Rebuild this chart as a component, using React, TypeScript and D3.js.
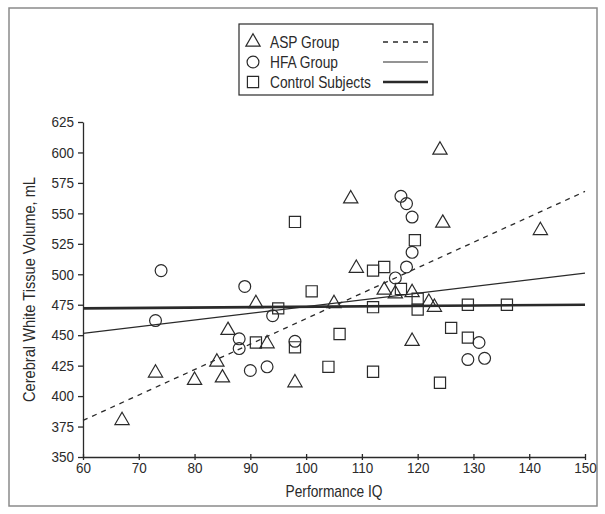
import React, { useEffect, useRef } from 'react';
import * as d3 from 'd3';

// [Performance IQ, white tissue volume]
const aspPoints: [number, number][] = [
  [67, 380], [73, 419], [80, 413], [84, 428], [85, 415], [86, 454], [91, 476],
  [93, 443], [98, 411], [105, 476], [108, 562], [109, 505], [114, 487], [116, 484],
  [119, 485], [119, 445], [122, 477], [123, 473], [124, 602], [124.5, 542], [142, 536],
];
const hfaPoints: [number, number][] = [
  [74, 503], [73, 462], [89, 490], [88, 447], [88, 439], [90, 421], [93, 424],
  [94, 466], [98, 445], [116, 497], [117, 564], [118, 558], [119, 547], [119, 518],
  [118, 506], [131, 444], [129, 430], [132, 431],
];
const controlPoints: [number, number][] = [
  [91, 444], [95, 472], [98, 543], [98, 440], [101, 486], [104, 424], [106, 451],
  [112, 503], [112, 473], [112, 420], [114, 506], [117, 488], [119.5, 528], [120, 480],
  [120, 471], [124, 411], [126, 456], [129, 475], [129, 448], [136, 475],
];

// fitted lines, endpoints
const aspFit: [number, number][] = [[60, 380], [150, 568]];
const hfaFit: [number, number][] = [[60, 451.5], [150, 501]];
const controlFit: [number, number][] = [[60, 472], [150, 475]];

const xTicks = [60, 70, 80, 90, 100, 110, 120, 130, 140, 150];
const yTicks = [350, 375, 400, 425, 450, 475, 500, 525, 550, 575, 600, 625];

const legendLabels = ['ASP Group', 'HFA Group', 'Control Subjects'];

const FONT = '"Liberation Sans", Arial, sans-serif';
const INK = '#2a2a2a';
const NARROW = 'scale(0.86,1)';

const App: React.FC = () => {
  const svgRef = useRef<SVGSVGElement>(null);

  useEffect(() => {
    if (!svgRef.current) return;
    const svg = d3.select(svgRef.current);
    svg.selectAll('*').remove();

    const x = d3.scaleLinear().domain([60, 150]).range([83, 585]);
    const y = d3.scaleLinear().domain([350, 625]).range([457, 122]);

    // outer frame
    svg.append('rect')
      .attr('x', 9).attr('y', 8).attr('width', 588).attr('height', 498)
      .attr('fill', 'white').attr('stroke', '#8a8a8a').attr('stroke-width', 1.5);

    const xAxis = svg.append('g')
      .attr('transform', `translate(0,${y(350)})`)
      .call(d3.axisBottom(x).tickValues(xTicks).tickSize(5).tickSizeOuter(0));
    const yAxis = svg.append('g')
      .attr('transform', `translate(${x(60)},0)`)
      .call(d3.axisLeft(y).tickValues(yTicks).tickSize(5).tickSizeOuter(0));

    [xAxis, yAxis].forEach(a => {
      a.select('.domain').attr('stroke', INK).attr('stroke-width', 1.3);
      a.selectAll('.tick line').attr('stroke', INK).attr('stroke-width', 1.3);
      a.selectAll('.tick text')
        .attr('fill', INK).style('font-family', FONT).style('font-size', '15px')
        .attr('transform', 'scale(0.9,1)');
    });
    xAxis.selectAll('.tick line').attr('y1', -3).attr('y2', 3);
    xAxis.selectAll('.tick text').attr('dy', '0.9em').attr('y', 3);
    yAxis.selectAll('.tick text').attr('x', -10);

    svg.append('g')
      .attr('transform', `translate(${x(105)},497)`)
      .append('text')
      .attr('transform', NARROW)
      .attr('text-anchor', 'middle')
      .style('font-family', FONT).style('font-size', '16px').attr('fill', INK)
      .text('Performance IQ');

    svg.append('g')
      .attr('transform', `translate(35,${y(487.5)}) rotate(-90)`)
      .append('text')
      .attr('transform', NARROW)
      .attr('text-anchor', 'middle')
      .style('font-family', FONT).style('font-size', '17px').attr('fill', INK)
      .text('Cerebral White Tissue Volume, mL');

    const line = d3.line<[number, number]>().x(d => x(d[0])).y(d => y(d[1]));

    svg.append('path').attr('d', line(aspFit)).attr('fill', 'none')
      .attr('stroke', INK).attr('stroke-width', 1.3).attr('stroke-dasharray', '5,5');
    svg.append('path').attr('d', line(hfaFit)).attr('fill', 'none')
      .attr('stroke', INK).attr('stroke-width', 1.2);
    svg.append('path').attr('d', line(controlFit)).attr('fill', 'none')
      .attr('stroke', INK).attr('stroke-width', 2.6);

    const tri = d3.symbol().type(d3.symbolTriangle).size(88);
    const circ = d3.symbol().type(d3.symbolCircle).size(110);
    const sq = d3.symbol().type(d3.symbolSquare).size(125);

    const drawSymbols = (pts: [number, number][], sym: any) => {
      svg.append('g').selectAll('path')
        .data(pts)
        .enter()
        .append('path')
        .attr('d', sym)
        .attr('transform', d => `translate(${x(d[0])},${y(d[1])})`)
        .attr('fill', 'none')
        .attr('stroke', INK)
        .attr('stroke-width', 1.2);
    };
    drawSymbols(aspPoints, tri);
    drawSymbols(hfaPoints, circ);
    drawSymbols(controlPoints, sq);

    // legend
    const lg = svg.append('g');
    lg.append('rect')
      .attr('x', 239).attr('y', 24).attr('width', 194).attr('height', 71)
      .attr('fill', 'white').attr('stroke', INK).attr('stroke-width', 1.2);
    const syms = [tri, circ, sq];
    const dashes = ['5,5', null, null];
    const widths = [1.3, 1.2, 2.6];
    legendLabels.forEach((label, i) => {
      const cy = 42 + i * 20;
      lg.append('path').attr('d', syms[i]).attr('transform', `translate(253,${cy})`)
        .attr('fill', 'none').attr('stroke', INK).attr('stroke-width', 1.2);
      lg.append('g').attr('transform', `translate(270,${cy + 5.5})`)
        .append('text').attr('transform', NARROW)
        .style('font-family', FONT).style('font-size', '16px').attr('fill', INK)
        .text(label);
      const seg = lg.append('line')
        .attr('x1', 383).attr('x2', 428).attr('y1', cy).attr('y2', cy)
        .attr('stroke', INK).attr('stroke-width', widths[i]);
      if (dashes[i]) seg.attr('stroke-dasharray', dashes[i] as string);
    });
  }, []);

  return (
    <svg
      ref={svgRef}
      width={605}
      height={514}
      style={{ position: 'absolute', left: 0, top: 0, background: 'white' }}
    />
  );
};

export default App;
